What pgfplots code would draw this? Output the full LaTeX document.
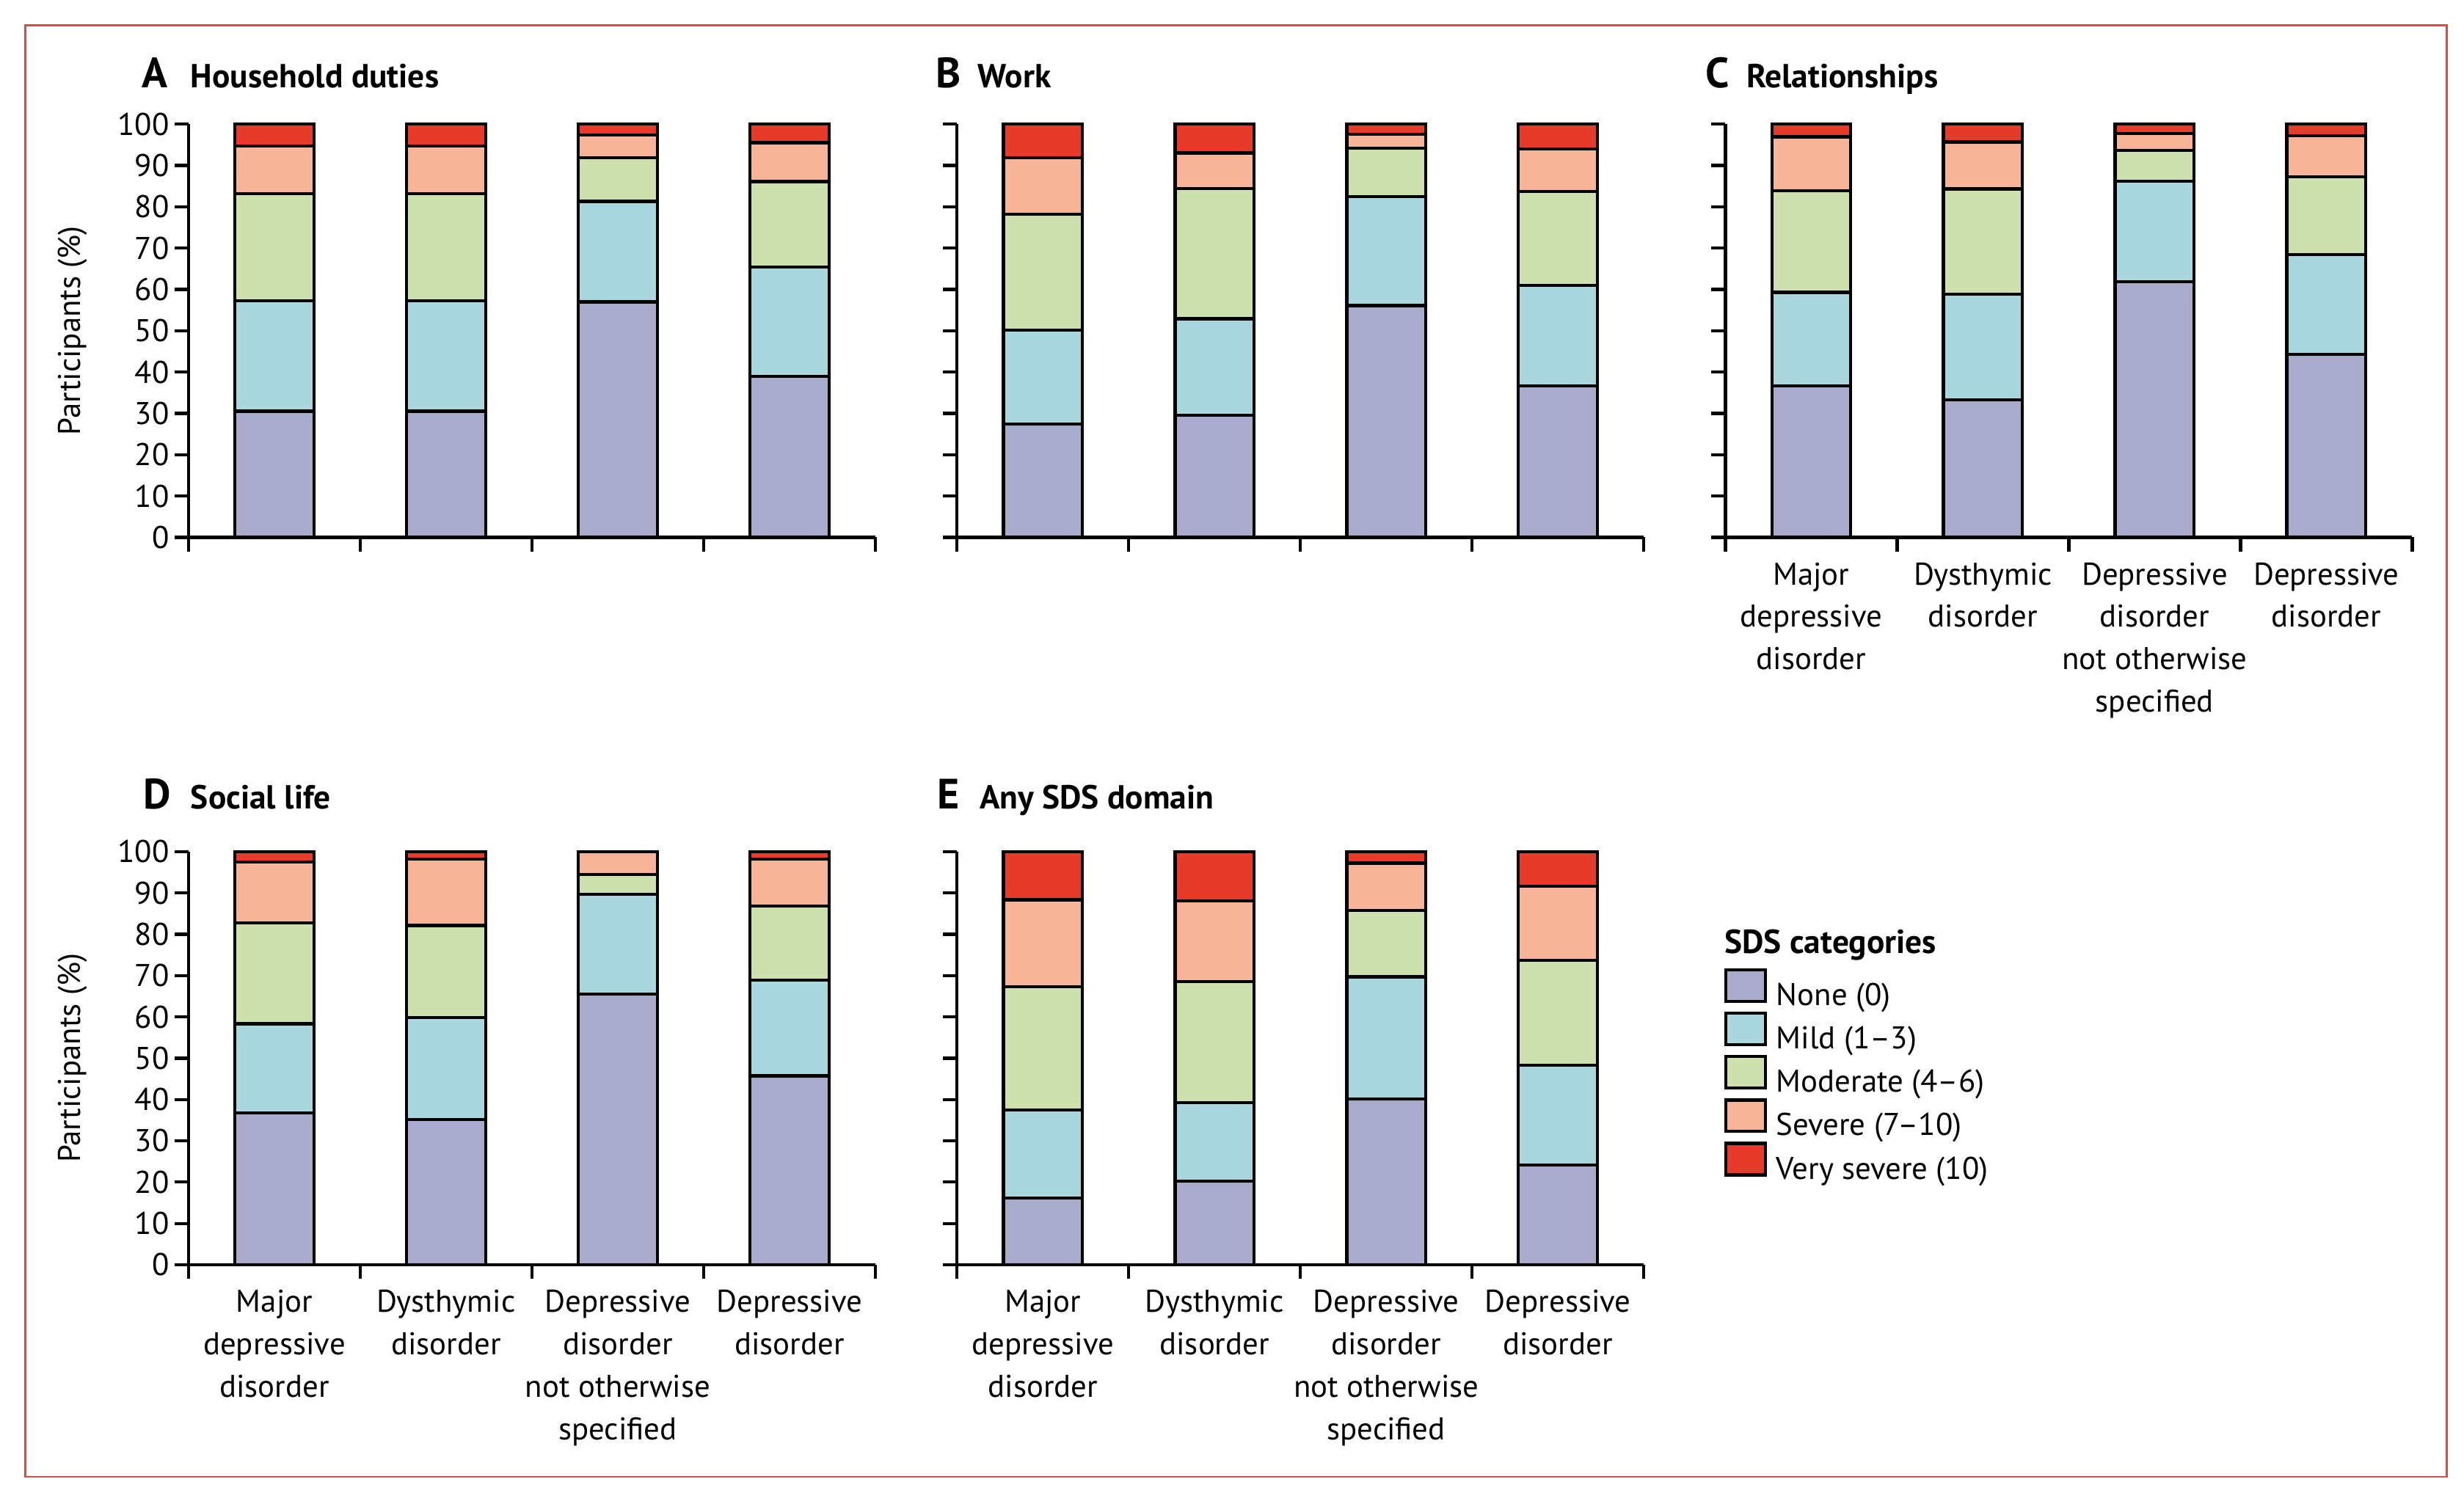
\documentclass[border=0pt]{standalone}
\usepackage{fontspec}
\setmainfont{PT Sans}
\usepackage{pgfplots}
\usepackage{pgfplotstable}
\pgfplotsset{compat=1.18}

\definecolor{cNone}{RGB}{170,170,204}
\definecolor{cMild}{RGB}{170,214,222}
\definecolor{cMod}{RGB}{206,224,174}
\definecolor{cSev}{RGB}{248,180,152}
\definecolor{cVsev}{RGB}{230,58,42}
\definecolor{cFrame}{RGB}{212,78,78}

% segment heights (%), categories 0..3: MDD, dysthymic, DD NOS, DD
\pgfplotstableread{
x none mild mod sev vsev
0 30.5 26.7 25.9 11.6 5.3
1 30.5 26.7 25.9 11.6 5.3
2 57.0 24.3 10.6 5.5 2.6
3 39.0 26.4 20.7 9.4 4.5
}\household
\pgfplotstableread{
x none mild mod sev vsev
0 27.4 22.8 28.0 13.7 8.1
1 29.5 23.4 31.5 8.6 7.0
2 56.1 26.3 11.8 3.4 2.4
3 36.6 24.4 22.7 10.3 6.0
}\work
\pgfplotstableread{
x none mild mod sev vsev
0 36.7 22.6 24.6 13.0 3.1
1 33.3 25.6 25.4 11.4 4.3
2 61.8 24.4 7.5 4.0 2.3
3 44.3 24.1 18.9 9.9 2.8
}\relations
\pgfplotstableread{
x none mild mod sev vsev
0 36.8 21.5 24.4 14.8 2.5
1 35.2 24.6 22.3 16.1 1.8
2 65.5 24.2 4.7 5.6 0
3 45.7 23.2 17.9 11.4 1.8
}\social
\pgfplotstableread{
x none mild mod sev vsev
0 16.1 21.3 29.9 21.0 11.7
1 20.2 19.0 29.3 19.5 12.0
2 40.1 29.6 16.0 11.5 2.8
3 24.1 24.2 25.4 17.9 8.4
}\anysds

\newcommand{\lbl}{\fontsize{10}{13.5}\selectfont}
\newcommand{\ttl}{\fontsize{10.6}{12}\selectfont\bfseries}
\newcommand{\ltr}{\fontsize{13.5}{15}\selectfont\bfseries}

\pgfplotsset{
  sds/.style={
    scale only axis, width=218.5pt, height=131.5pt,
    anchor=south west,
    ybar stacked, bar width=0.46,
    xmin=-0.5, xmax=3.5, ymin=0, ymax=100,
    clip=false,
    axis lines*=left,
    axis line style={line width=1pt, black},
    xtick={-0.5,0.5,1.5,2.5,3.5},
    ytick={0,10,...,100},
    x tick label as interval,
    tick align=outside,
    major tick length=4.5pt,
    tick style={line width=1pt, black},
    /pgf/number format/assume math mode=true,
    yticklabel style={font=\lbl, inner xsep=1.5pt},
    xticklabel style={font=\lbl, align=center},
    ylabel style={font=\lbl, at={(axis description cs:-0.169,0.5)}, anchor=center},
    xticklabels={},
  },
  sdsbar/.style={draw=black, line width=1pt,
    legend image code/.code={\draw[##1, line width=1pt] (0pt,-1.5pt) rectangle (12.5pt,8.5pt);}},
}

\newcommand{\sdsbars}[1]{%
  \addplot[sdsbar, fill=cNone] table[x=x, y=none] {#1};
  \addplot[sdsbar, fill=cMild] table[x=x, y=mild] {#1};
  \addplot[sdsbar, fill=cMod] table[x=x, y=mod] {#1};
  \addplot[sdsbar, fill=cSev] table[x=x, y=sev] {#1};
  \addplot[sdsbar, fill=cVsev] table[x=x, y=vsev] {#1};
}

\begin{document}
\begin{tikzpicture}
\path[use as bounding box] (0,0) rectangle (784pt,474pt);
\draw[cFrame, line width=0.6pt] (8pt,4pt) rectangle (778.5pt,466pt);

% A
\begin{axis}[sds, at={(60pt,303pt)}, ylabel={Participants (\%)}]
\sdsbars{\household}
\end{axis}
% B
\begin{axis}[sds, at={(304.5pt,303pt)}, yticklabels={}]
\sdsbars{\work}
\end{axis}
% C
\begin{axis}[sds, at={(549pt,303pt)}, yticklabels={},
  xticklabels={{Major\\depressive\\disorder},{Dysthymic\\disorder},{Depressive\\disorder\\not otherwise\\specified},{Depressive\\disorder}}]
\sdsbars{\relations}
\end{axis}
% D
\begin{axis}[sds, at={(60pt,71.5pt)}, ylabel={Participants (\%)},
  xticklabels={{Major\\depressive\\disorder},{Dysthymic\\disorder},{Depressive\\disorder\\not otherwise\\specified},{Depressive\\disorder}}]
\sdsbars{\social}
\end{axis}
% E
\begin{axis}[sds, at={(304.5pt,71.5pt)}, yticklabels={},
  xticklabels={{Major\\depressive\\disorder},{Dysthymic\\disorder},{Depressive\\disorder\\not otherwise\\specified},{Depressive\\disorder}},
  legend style={at={(axis description cs:1.1167,0.719)}, anchor=north west,
    draw=none, fill=none, inner sep=0pt, row sep=0.5pt, font=\lbl,
    nodes={inner sep=0pt},
    /tikz/every odd column/.append style={column sep=3pt}},
  legend cell align=left]
\sdsbars{\anysds}
\legend{None (0), Mild (1--3), Moderate (4--6), Severe (7--10), Very severe (10)}
\end{axis}

% panel titles
\begin{scope}[every node/.style={anchor=base west, inner sep=0pt}]
\node[font=\ltr] at (45pt,446pt) {A};
\node[font=\ttl] at (60.5pt,446pt) {Household duties};
\node[font=\ltr] at (297.5pt,446pt) {B};
\node[font=\ttl] at (311pt,446pt) {Work};
\node[font=\ltr] at (542.5pt,446pt) {C};
\node[font=\ttl] at (555.5pt,446pt) {Relationships};
\node[font=\ltr] at (45.5pt,216.5pt) {D};
\node[font=\ttl] at (60.5pt,216.5pt) {Social life};
\node[font=\ltr] at (298pt,216.5pt) {E};
\node[font=\ttl] at (311.5pt,216.5pt) {Any SDS domain};
\node[font=\ttl] at (548.5pt,170.5pt) {SDS categories};
\end{scope}
\end{tikzpicture}
\end{document}
